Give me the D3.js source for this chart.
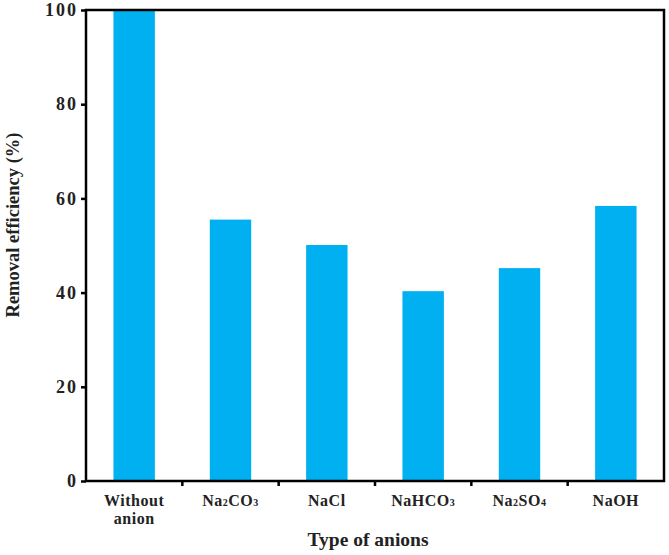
<!DOCTYPE html>
<html>
<head>
<meta charset="utf-8">
<script src="https://cdn.jsdelivr.net/npm/d3@7"></script>
<style>
  body { margin: 0; background: #fff; }
  text { font-family: "Liberation Serif", "Times New Roman", serif; font-weight: bold; fill: #222; }
</style>
</head>
<body>
<div id="chart"></div>
<script>
// categories as text pieces: [text, isSubscript]
const categories = [
  [["Without", 0]],
  [["Na", 0], ["2", 1], ["CO", 0], ["3", 1]],
  [["NaCl", 0]],
  [["NaHCO", 0], ["3", 1]],
  [["Na", 0], ["2", 1], ["SO", 0], ["4", 1]],
  [["NaOH", 0]]
]
const secondLine = ["anion", "", "", "", "", ""]
const removal = [100, 55.5, 50.1, 40.3, 45.2, 58.4]
const yTicks = [0, 20, 40, 60, 80, 100]

const width = 669, height = 555
const margin = {top: 10, right: 5, bottom: 74, left: 86}
const innerW = width - margin.left - margin.right
const innerH = height - margin.top - margin.bottom

const svg = d3.select("#chart")
  .append("svg")
  .attr("width", width)
  .attr("height", height)

const g = svg.append("g")
  .attr("transform", `translate(${margin.left},${margin.top})`)

const x = d3.scaleBand()
  .domain(d3.range(categories.length))
  .range([0, innerW])
  .paddingInner(0.57)
  .paddingOuter(0.285)

const y = d3.scaleLinear()
  .domain([0, 100])
  .range([innerH, 0])

// bars
g.selectAll("rect.bar")
  .data(removal)
  .enter()
  .append("rect")
  .attr("class", "bar")
  .attr("x", (d, i) => x(i))
  .attr("y", d => y(d))
  .attr("width", x.bandwidth())
  .attr("height", d => innerH - y(d))
  .attr("fill", "#00b0f0")

// y axis
const yAxis = g.append("g")
  .call(d3.axisLeft(y).tickValues(yTicks).tickSize(5).tickPadding(3))
yAxis.select(".domain").remove()
yAxis.selectAll("line").attr("stroke", "#000").attr("stroke-width", 2.5)
yAxis.selectAll("text")
  .style("font-size", "18px")
  .style("letter-spacing", "2px")
  .attr("fill", "#222")

// x ticks at category boundaries
const step = x.step()
const boundaries = d3.range(1, categories.length)
g.selectAll("line.xtick")
  .data(boundaries)
  .enter()
  .append("line")
  .attr("x1", d => d * step)
  .attr("x2", d => d * step)
  .attr("y1", innerH)
  .attr("y2", innerH + 5)
  .attr("stroke", "#000")
  .attr("stroke-width", 2.5)

// frame
g.append("rect")
  .attr("x", 0)
  .attr("y", 0)
  .attr("width", innerW)
  .attr("height", innerH)
  .attr("fill", "none")
  .attr("stroke", "#000")
  .attr("stroke-width", 2.5)

// x labels
const labels = g.selectAll("g.xlabel")
  .data(categories)
  .enter()
  .append("g")
  .attr("class", "xlabel")
  .attr("transform", (d, i) => `translate(${x(i) + x.bandwidth() / 2},${innerH + 25})`)

labels.append("text")
  .attr("text-anchor", "middle")
  .style("font-size", "16px")
  .style("letter-spacing", "0.5px")
  .each(function(parts) {
    const t = d3.select(this)
    parts.forEach(p => {
      t.append("tspan")
        .text(p[0])
        .style("font-size", p[1] ? "10px" : "16px")
    })
  })

labels.append("text")
  .attr("text-anchor", "middle")
  .attr("y", 18)
  .style("font-size", "16px")
  .style("letter-spacing", "0.5px")
  .text((d, i) => secondLine[i])

// axis titles
svg.append("text")
  .attr("x", margin.left + innerW / 2 - 7)
  .attr("y", 546)
  .attr("text-anchor", "middle")
  .style("font-size", "19.5px")
  .text("Type of anions")

svg.append("text")
  .attr("transform", `translate(19,225) rotate(-90)`)
  .attr("text-anchor", "middle")
  .style("font-size", "18.5px")
  .text("Removal efficiency (%)")
</script>
</body>
</html>
